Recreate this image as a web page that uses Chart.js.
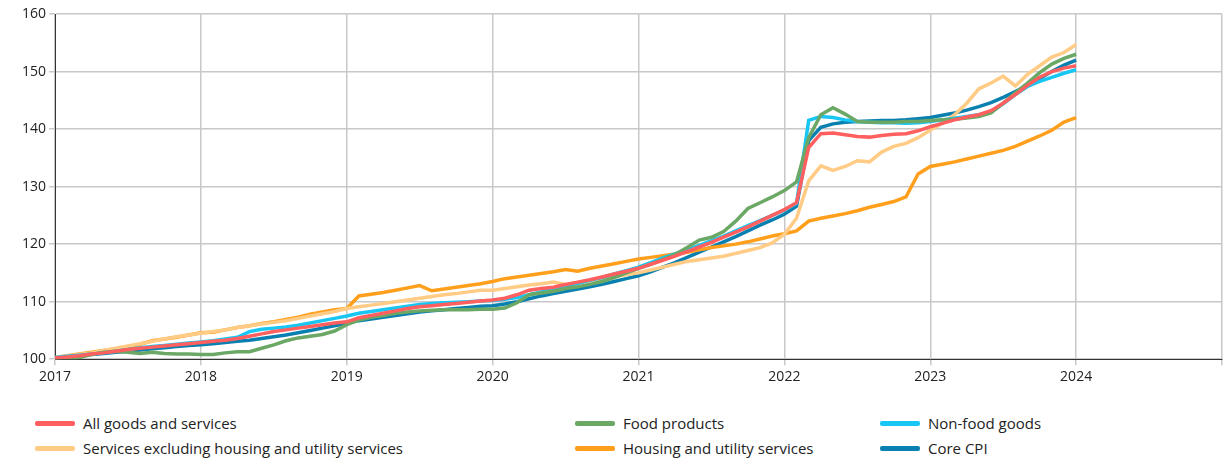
<!DOCTYPE html>
<html>
<head>
<meta charset="utf-8">
<script src="https://cdn.jsdelivr.net/npm/chart.js@4"></script>
<style>
  body { margin: 0; background: #fff; font-family: "Open Sans", sans-serif; }
  #wrap { position: absolute; left: 0; top: 0; width: 1232px; height: 395px; }
  .legend { position: absolute; font-size: 15px; color: #222; display: flex; align-items: center; }
  .legend span { display: inline-block; width: 40px; height: 5px; margin-right: 8px; border-radius: 2px; }
</style>
</head>
<body>
<div id="wrap"><canvas id="chart" width="1232" height="388"></canvas></div>
<div id="legendBox"></div>
<script>
// monthly index, Jan 2017 .. Jan 2024 (2017 = 100)
const startYear = 2017;

const allGoods = [
  100.2,100.4,100.6,100.9,101.1,101.4,101.7,101.9,102.1,102.3,102.5,102.7,
  102.9,103.1,103.3,103.6,104.0,104.4,104.8,105.1,105.4,105.7,106.0,106.3,
  106.5,107.2,107.6,108.0,108.4,108.8,109.1,109.3,109.5,109.7,109.9,110.1,
  110.3,110.6,111.2,112.0,112.3,112.5,113.0,113.4,113.8,114.3,114.8,115.3,
  115.8,116.5,117.2,117.9,118.7,119.5,120.3,121.2,122.1,123.0,124.0,125.0,
  126.0,127.2,136.8,139.2,139.3,139.0,138.7,138.6,138.9,139.1,139.2,139.7,
  140.4,141.0,141.6,142.1,142.5,143.2,144.5,146.0,147.6,149.0,150.0,150.6,
  151.0];
const food = [
  100.0,99.9,100.3,100.8,101.2,101.4,101.2,101.0,101.2,101.0,100.9,100.9,
  100.8,100.8,101.1,101.3,101.3,101.9,102.5,103.2,103.7,104.0,104.3,104.9,
  106.0,106.8,107.3,107.6,108.0,108.2,108.4,108.5,108.6,108.6,108.6,108.7,
  108.7,108.9,109.8,111.2,111.5,111.8,112.3,112.6,113.0,113.5,114.2,115.0,
  115.8,116.5,117.3,118.2,119.4,120.7,121.2,122.2,124.0,126.2,127.2,128.2,
  129.3,130.8,138.5,142.5,143.7,142.6,141.3,141.2,141.2,141.2,141.3,141.3,
  141.5,141.6,141.7,141.9,142.2,142.8,144.5,146.3,148.0,149.8,151.3,152.3,
  153.0];
const nonFood = [
  100.3,100.5,100.7,100.9,101.1,101.4,101.7,102.0,102.2,102.4,102.6,102.8,
  103.0,103.2,103.5,103.8,104.8,105.2,105.4,105.6,105.9,106.3,106.7,107.1,
  107.5,108.0,108.3,108.6,108.9,109.2,109.5,109.7,109.8,109.9,110.0,110.1,
  110.2,110.4,110.7,111.2,111.7,112.2,112.7,113.2,113.7,114.2,114.8,115.4,
  116.0,116.8,117.6,118.3,119.0,119.8,120.6,121.4,122.3,123.2,124.1,125.0,
  125.9,127.1,141.5,142.2,142.0,141.6,141.3,141.2,141.1,141.1,141.0,141.1,
  141.3,141.6,141.9,142.2,142.5,143.0,144.4,146.0,147.4,148.3,149.0,149.7,
  150.3];
const services = [
  100.2,100.5,100.8,101.1,101.5,101.9,102.3,102.7,103.1,103.5,103.9,104.2,
  104.5,104.8,105.1,105.5,105.8,106.1,106.4,106.7,107.1,107.5,107.9,108.3,
  108.8,109.1,109.4,109.7,110.0,110.3,110.6,110.9,111.2,111.4,111.7,112.0,
  112.0,112.3,112.6,112.9,113.1,113.4,113.0,113.3,113.6,113.9,114.3,114.7,
  115.0,115.5,116.0,116.5,117.0,117.3,117.6,117.9,118.4,118.9,119.4,120.2,
  121.7,124.5,131.0,133.6,132.8,133.5,134.5,134.3,136.0,137.0,137.5,138.5,
  139.8,141.0,142.5,144.5,147.0,148.0,149.2,147.5,149.5,151.0,152.5,153.3,
  154.7];
const housing = [
  100.3,100.6,100.9,101.2,101.5,101.8,102.1,102.6,103.2,103.5,103.8,104.2,
  104.6,104.7,105.1,105.5,105.8,106.2,106.5,106.9,107.3,107.8,108.2,108.6,
  108.8,111.0,111.3,111.6,112.0,112.4,112.8,111.9,112.2,112.5,112.8,113.1,
  113.5,114.0,114.3,114.6,114.9,115.2,115.6,115.3,115.8,116.2,116.6,117.0,
  117.4,117.7,118.0,118.3,118.6,119.0,119.4,119.7,120.0,120.4,120.9,121.4,
  121.8,122.3,124.0,124.5,124.9,125.3,125.8,126.4,126.9,127.4,128.2,132.2,
  133.5,133.9,134.3,134.8,135.3,135.8,136.3,137.0,137.9,138.8,139.8,141.2,
  142.0];
const coreCpi = [
  100.2,100.4,100.6,100.8,101.0,101.2,101.4,101.6,101.8,102.0,102.2,102.4,
  102.5,102.7,102.9,103.1,103.3,103.6,103.9,104.2,104.6,105.0,105.4,105.8,
  106.3,106.7,107.0,107.3,107.6,107.9,108.2,108.4,108.6,108.8,109.0,109.2,
  109.3,109.6,110.0,110.5,111.0,111.4,111.8,112.2,112.6,113.0,113.5,114.0,
  114.5,115.2,116.0,116.8,117.7,118.6,119.5,120.4,121.3,122.3,123.3,124.2,
  125.2,126.6,138.0,140.3,140.9,141.2,141.3,141.4,141.5,141.5,141.6,141.8,
  142.0,142.4,142.8,143.3,143.9,144.6,145.5,146.5,147.6,148.8,150.0,151.1,
  152.0];

const seriesNames = ["All goods and services", "Food products", "Non-food goods",
  "Services excluding housing and utility services", "Housing and utility services", "Core CPI"];
const seriesData = [allGoods, food, nonFood, services, housing, coreCpi];
const seriesColors = ["#ff5f5f", "#6ba865", "#18c6f4", "#ffcb85", "#ff9f1c", "#0a80b0"];

const toPoints = arr => arr.map((v, i) => ({ x: startYear + i / 12, y: v }));

new Chart(document.getElementById("chart"), {
    type: "line",
    data: {
        datasets: seriesData.map((d, i) => ({
            label: seriesNames[i],
            data: toPoints(d),
            borderColor: seriesColors[i],
            borderWidth: 3.5,
            pointRadius: 0,
            tension: 0
        }))
    },
    options: {
        responsive: false,
        animation: false,
        layout: { padding: { left: 0, right: 10, top: 14 } },
        plugins: { legend: { display: false }, tooltip: { enabled: false } },
        scales: {
            x: {
                type: "linear", min: 2017, max: 2025,
                ticks: { stepSize: 1, color: "#222", font: { size: 14, family: "Open Sans" },
                    callback: v => v < 2025 ? String(v) : "" },
                grid: { color: "#c8c8c8", lineWidth: 1.5, tickLength: 6 },
                border: { color: "#333" }
            },
            y: {
                min: 100, max: 160,
                afterFit: s => { s.width = 55; },
                ticks: { stepSize: 10, color: "#222", font: { size: 14, family: "Open Sans" } },
                grid: { color: "#c8c8c8", lineWidth: 1.5, tickLength: 6 },
                border: { color: "#333" }
            }
        }
    }
});

// legend, 3 columns x 2 rows
const legendPos = [[35, 424], [575, 424], [880, 424], [35, 449], [575, 449], [880, 449]];
const legendBox = document.getElementById("legendBox");
seriesNames.forEach((name, i) => {
    const el = document.createElement("div");
    el.className = "legend";
    el.style.left = legendPos[i][0] + "px";
    el.style.top = (legendPos[i][1] - 11) + "px";
    el.innerHTML = '<span style="background:' + seriesColors[i] + '"></span>' + name;
    legendBox.appendChild(el);
});
</script>
</body>
</html>
